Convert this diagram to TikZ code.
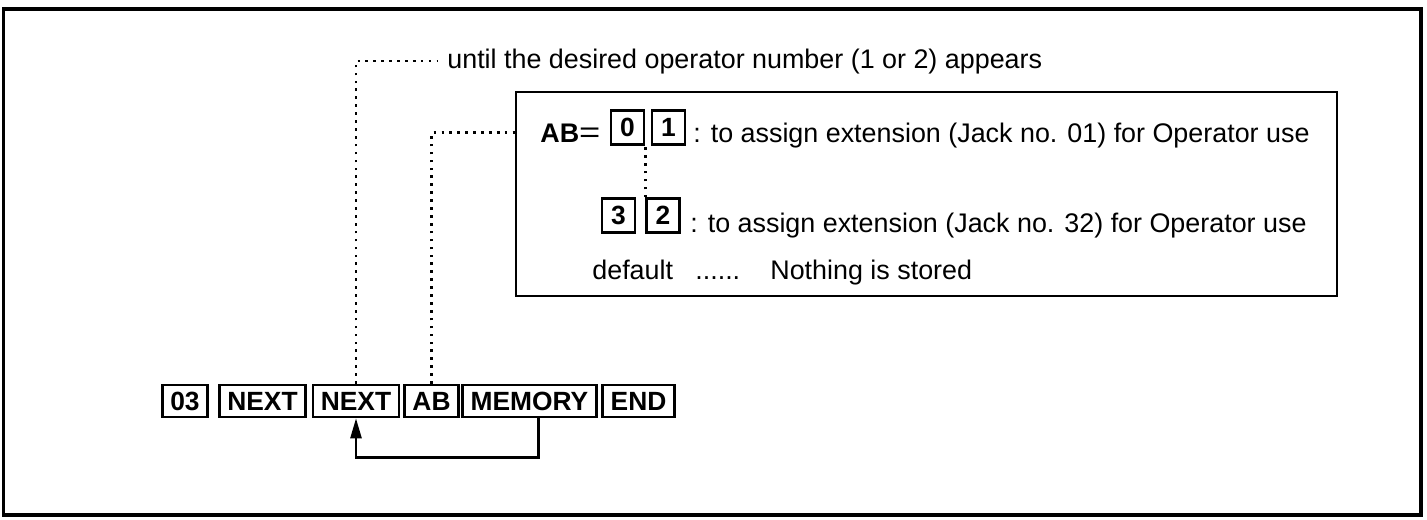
\documentclass[tikz,border=0pt]{standalone}
\usepackage{fontspec}
\usepackage{graphicx}
\setmainfont{Liberation Sans}
\usetikzlibrary{arrows.meta, positioning}
\tikzset{
    % Key boxes with sharp corners
    key/.style={
        rectangle,
        draw=black,
        line width=1.5pt,
        minimum height=0.64cm,
        inner xsep=4.5pt,
        inner ysep=0pt,
        font=\fontsize{15}{17}\selectfont\bfseries
    },
    digit key/.style={
        key,
        minimum width=0.66cm,
        minimum height=0.68cm,
        inner xsep=0pt
    },
    label text/.style={
        inner sep=0pt,
        anchor=base west,
        font=\fontsize{15.3}{18}\selectfont
    },
    frame line/.style={
        draw=black,
        line width=1.8pt
    },
    info frame/.style={
        rectangle,
        draw=black,
        line width=1.6pt,
        minimum width=16.42cm,
        minimum height=4.08cm
    },
    dot line/.style={
        black,
        line width=1.5pt,
        dash pattern=on 1.5pt off 3pt
    },
    feedback arrow/.style={
        -{Triangle[length=0.4cm,width=0.22cm]},
        line width=1.4pt,
        black
    }
}
\begin{document}
\begin{tikzpicture}
        \useasboundingbox (0,0) rectangle (28.54,10.38);
        % Outer frame
        \draw[frame line] (0.07,0.08) rectangle (28.42,10.2);

        % Key sequence
        \node[key] (key-03) at (3.7, 2.36) {03};
        \node[key] (key-next1) at (5.25, 2.36) {NEXT};
        \node[key] (key-next2) at (7.12, 2.36) {NEXT};
        \node[key] (key-ab) at (8.63, 2.36) {AB};
        \node[key] (key-memory) at (10.59, 2.36) {MEMORY};
        \node[key] (key-end) at (12.77, 2.36) {END};

        \draw[feedback arrow] ([xshift=0.18cm]key-memory.south) -- ++(0,-0.78) -| (key-next2.south);

        % Repeat note
        \node[label text] (until-text) at (8.94, 9.02) {until the desired operator number (1 or 2) appears};
        \draw[dot line] (key-next2.north) |- ([xshift=-0.2cm]until-text.west);

        % Assignment box
        \node[info frame] (info-box) at (18.53, 6.5) {};

        \node[label text] (ab-label) at (10.8, 7.54) {\textbf{AB}\scalebox{1.35}[1.1]{=}};
        \node[digit key] (key-0) at (12.55, 7.83) {0};
        \node[digit key] (key-1) at (13.37, 7.83) {1};
        \node[label text] (line1-text) at (13.86, 7.54) {: to assign extension (Jack no. 01) for Operator use};

        \node[digit key] (key-3) at (12.37, 6.07) {3};
        \node[digit key] (key-2) at (13.26, 6.07) {2};
        \node[label text] (line2-text) at (13.8, 5.74) {: to assign extension (Jack no. 32) for Operator use};

        \node[label text] (default-text) at (11.84, 4.8) {default};
        \node[label text] (dots-text) at (13.9, 4.8) {......};
        \node[label text] (nothing-text) at (15.4, 4.8) {Nothing is stored};

        \draw[dot line] (key-2.north west) -- (key-2.north west |- key-1.south);
        \draw[dot line] (key-ab.north) |- (info-box.west |- ab-label.west);
    \end{tikzpicture}
\end{document}
